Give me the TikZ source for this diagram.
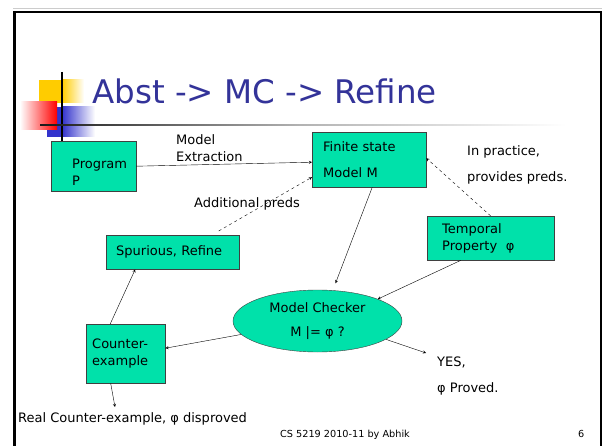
\documentclass[tikz,border=0pt]{standalone}
\usepackage{fontspec}
\setmainfont{DejaVu Sans}
\usetikzlibrary{shapes.geometric}

\definecolor{boxgreen}{RGB}{0,225,170}
\definecolor{titleblue}{RGB}{51,51,153}
\definecolor{decoblue}{RGB}{51,51,204}
\definecolor{decoyellow}{RGB}{255,204,0}
\newcommand{\bodyfont}{\fontsize{13}{17}\selectfont}
\hyphenpenalty=10000

\tikzset{
  box/.style={draw=black!75,fill=boxgreen,rectangle,anchor=north west,align=left,inner ysep=0pt,font=\bodyfont},
  note/.style={align=left,inner sep=0pt,font=\bodyfont},
  arr/.style={->,>=stealth,thin},
  darr/.style={arr,dashed}
}

\begin{document}
\begin{tikzpicture}[x=1pt,y=-1pt]
  \useasboundingbox (0,0) rectangle (602,446);
  \draw[fill=white,draw=none] (0,0) rectangle (602,446);
  \draw[gray!40,line width=1pt] (13,8.5) -- (602,8.5);
  \draw[black,line width=2.5pt] (14.3,446) -- (14.3,12) -- (600.8,12) -- (600.8,446);

  \draw[fill=decoyellow,draw=none] (39,80) rectangle (62,103);
  \shade[left color=decoyellow,right color=white] (62,80) rectangle (84,103);
  \draw[fill=decoblue,draw=none] (47,107) rectangle (62,137);
  \shade[left color=decoblue,right color=white] (62,107) rectangle (95,137);
  \shade[left color=white,right color=red] (20,102) rectangle (57,130);
  \draw[black,line width=1.5pt] (62,72) -- (62,141);
  \shade[left color=black!90,right color=black!30] (40,124.2) rectangle (300,125.8);
  \shade[left color=black!30,right color=white] (300,124.2) rectangle (566,125.8);
  \node[anchor=base west,inner sep=0pt,titleblue,font=\fontsize{32.5}{39}\selectfont] (title) at (92,104) {Abst -> MC -> Refine};

  \node[box,minimum width=85pt,minimum height=50pt,inner xsep=21pt,text width=43pt] (prog) at (51,141) {\rule{0pt}{22pt}Program\\P};
  \node[box,minimum width=114pt,minimum height=55pt,inner xsep=11pt,text width=92pt] (fsm) at (312,132) {Finite state\\[9pt]Model M};
  \node[box,minimum width=127pt,minimum height=44pt,inner xsep=15pt,text width=97pt] (temp) at (427,216) {Temporal\\Property\ \ φ};
  \node[box,minimum width=133pt,minimum height=34pt,inner xsep=10pt,text width=113pt] (spur) at (106,235) {Spurious, Refine};
  \node[box,minimum width=79pt,minimum height=59pt,inner xsep=6pt,text width=67pt] (cex) at (86,324) {Counter-\\example};
  \node[ellipse,draw=black!75,fill=boxgreen,minimum width=169pt,minimum height=62pt,inner sep=0pt,align=center,font=\bodyfont] (mc) at (317.5,321) {Model Checker\\[7pt]M |= φ ?};

  \node[note,anchor=west] (extr) at (176,148) {Model\\Extraction};
  \node[note,anchor=base] (addl) at (247,208) {Additional preds};
  \node[note,anchor=west] (pract) at (467,165) {In practice,\\[9pt]provides preds.};
  \node[note,anchor=west] (yes) at (437,376) {YES,\\[9pt]φ Proved.};
  \node[note,anchor=base west] (real) at (18,422) {Real Counter-example, φ disproved};
  \node[anchor=base west,inner sep=0pt,font=\fontsize{9.7}{12}\selectfont] (foot) at (280,437) {CS 5219 2010-11 by Abhik};
  \node[anchor=base west,inner sep=0pt,font=\fontsize{9.7}{12}\selectfont] (page) at (578,437) {6};

  \coordinate (realtip) at (115,407);
  \coordinate (yestip) at (426,353);

  \draw[arr] (prog.east) -- ([yshift=-2.5pt]fsm.west);
  \draw[darr] ([xshift=46pt,yshift=4pt]spur.north) -- ([yshift=-17.5pt]fsm.west);
  \draw[darr] (temp.north) -- ([yshift=1.5pt]fsm.east);
  \draw[arr,shorten >=7pt] ([xshift=3pt]fsm.south) -- ([xshift=15.5pt]mc.north);
  \draw[arr] ([xshift=-30pt]temp.south) -- (mc.20);
  \draw[arr] (mc.190) -- ([yshift=5.5pt]cex.east);
  \draw[arr] ([xshift=-15.5pt]cex.north) -- ([xshift=-37.5pt]spur.south);
  \draw[arr] ([xshift=-15pt]cex.south) -- (realtip);
  \draw[arr] (mc.-15) -- (yestip);
\end{tikzpicture}
\end{document}
